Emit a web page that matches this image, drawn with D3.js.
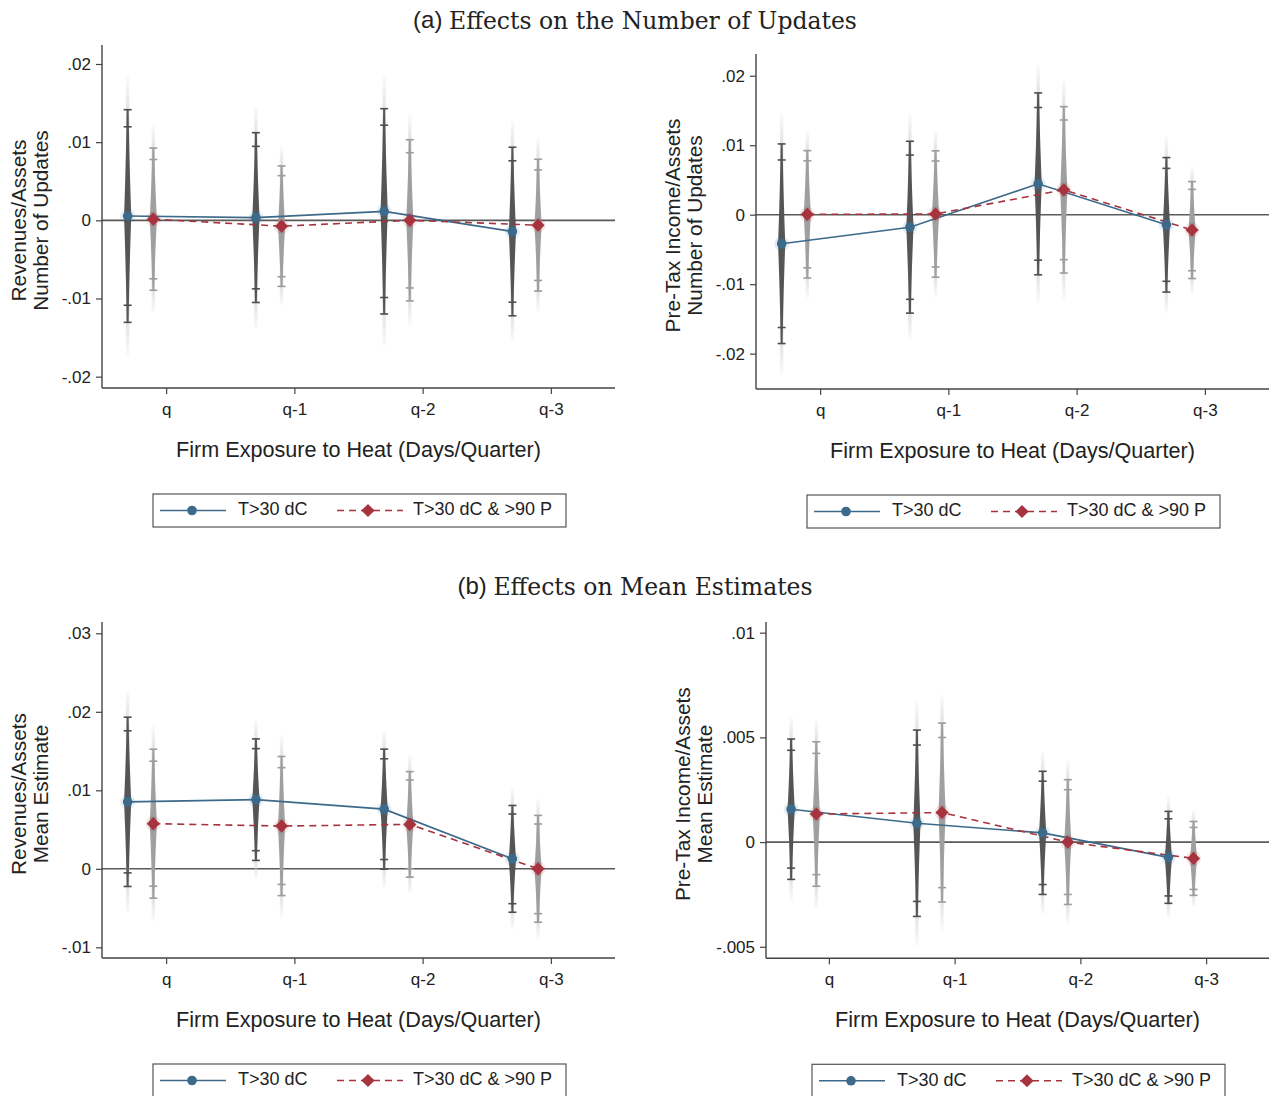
<!DOCTYPE html>
<html>
<head>
<meta charset="utf-8">
<script src="https://cdn.jsdelivr.net/npm/d3@7"></script>
<style>
  body { margin: 0; background: #fff; }
  svg { display: block; }
</style>
</head>
<body>
<svg id="chart" width="1269" height="1096"></svg>
<script>
// ---------------- DATA ----------------
const categories = ["q", "q-1", "q-2", "q-3"];
const seriesNames = ["T>30 dC", "T>30 dC & >90 P"];

// (a) Number of Updates — Revenues/Assets
const updRevEstT30 = [0.00055, 0.00035, 0.00115, -0.00143];
const updRevSeT30  = [0.00694, 0.00554, 0.00670, 0.00550];
const updRevEstP90 = [0.00015, -0.00075, 0.00000, -0.00062];
const updRevSeP90  = [0.00464, 0.00393, 0.00526, 0.00430];

// (a) Number of Updates — Pre-Tax Income/Assets
const updPtiEstT30 = [-0.00418, -0.00180, 0.00444, -0.00146];
const updPtiSeT30  = [0.00733, 0.00631, 0.00668, 0.00494];
const updPtiEstP90 = [0.00005, 0.00010, 0.00358, -0.00221];
const updPtiSeP90  = [0.00468, 0.00464, 0.00611, 0.00356];

// (b) Mean Estimates — Revenues/Assets
const meanRevEstT30 = [0.00853, 0.00881, 0.00760, 0.00127];
const meanRevSeT30  = [0.00550, 0.00395, 0.00390, 0.00347];
const meanRevEstP90 = [0.00575, 0.00545, 0.00566, 0.00000];
const meanRevSeP90  = [0.00484, 0.00452, 0.00343, 0.00347];

// (b) Mean Estimates — Pre-Tax Income/Assets
const meanPtiEstT30 = [0.00157, 0.00090, 0.00044, -0.00073];
const meanPtiSeT30  = [0.00171, 0.00227, 0.00150, 0.00112];
const meanPtiEstP90 = [0.00134, 0.00141, 0.00000, -0.00078];
const meanPtiSeP90  = [0.00176, 0.00218, 0.00152, 0.00090];

// tick values / labels
const ticksUpd = [-0.02, -0.01, 0, 0.01, 0.02];
const ticksUpdLabels = ["-.02", "-.01", "0", ".01", ".02"];
const ticksMeanRev = [-0.01, 0, 0.01, 0.02, 0.03];
const ticksMeanRevLabels = ["-.01", "0", ".01", ".02", ".03"];
const ticksMeanPti = [-0.005, 0, 0.005, 0.01];
const ticksMeanPtiLabels = ["-.005", "0", ".005", ".01"];

const xTitle = "Firm Exposure to Heat (Days/Quarter)";

// ---------------- STYLE / LAYOUT ----------------
const BLUE = "#3c6a8b", RED = "#a6333d";
const Z90 = 1.645, Z95 = 1.96, Z99 = 2.576;
const svg = d3.select("#chart");
const defs = svg.append("defs");
const fadeGrad = defs.append("linearGradient").attr("id", "fade")
  .attr("x1", 0).attr("y1", 0).attr("x2", 0).attr("y2", 1);
[[0, 0.1], [0.2, 1], [0.8, 1], [1, 0.1]].forEach(([o, a]) =>
  fadeGrad.append("stop").attr("offset", o).attr("stop-color", "#d4d4d4").attr("stop-opacity", a));

const panels = [
  { left: 102, right: 615, top: 45, bottom: 388, dom: [-0.02145, 0.02243],
    ticks: ticksUpd, labels: ticksUpdLabels, ytitle: ["Revenues/Assets", "Number of Updates"],
    series: [[updRevEstT30, updRevSeT30], [updRevEstP90, updRevSeP90]] },
  { left: 756, right: 1269, top: 54, bottom: 389, dom: [-0.02509, 0.02313],
    ticks: ticksUpd, labels: ticksUpdLabels, ytitle: ["Pre-Tax Income/Assets", "Number of Updates"],
    series: [[updPtiEstT30, updPtiSeT30], [updPtiEstP90, updPtiSeP90]] },
  { left: 102, right: 615, top: 622, bottom: 958, dom: [-0.01136, 0.03144],
    ticks: ticksMeanRev, labels: ticksMeanRevLabels, ytitle: ["Revenues/Assets", "Mean Estimate"],
    series: [[meanRevEstT30, meanRevSeT30], [meanRevEstP90, meanRevSeP90]] },
  { left: 766, right: 1269, top: 622, bottom: 958.3, dom: [-0.00555, 0.01051],
    ticks: ticksMeanPti, labels: ticksMeanPtiLabels, ytitle: ["Pre-Tax Income/Assets", "Mean Estimate"],
    series: [[meanPtiEstT30, meanPtiSeT30], [meanPtiEstP90, meanPtiSeP90]] }
];

const seriesStyle = [
  { color: BLUE, bar: "#4e4e4e", offset: -0.3, dash: null, marker: "circle" },
  { color: RED, bar: "#9c9c9c", offset: -0.1, dash: "7,5", marker: "diamond" }
];

// section titles
function sectionTitle(y, tag, text) {
  const t = svg.append("text").attr("x", 635).attr("y", y).attr("text-anchor", "middle")
    .attr("dominant-baseline", "middle").attr("fill", "#222");
  t.append("tspan").attr("font-family", "Liberation Sans, Arial, sans-serif").attr("font-size", 24).text(tag + " ");
  t.append("tspan").attr("font-family", "DejaVu Serif, serif").attr("font-size", 23.5).text(text);
}
sectionTitle(22, "(a)", "Effects on the Number of Updates");
sectionTitle(588, "(b)", "Effects on Mean Estimates");

const FONT = "Liberation Sans, Arial, Helvetica, sans-serif";

function drawMarker(sel, st, cx, cy) {
  if (st.marker === "circle") {
    sel.append("circle").attr("cx", cx).attr("cy", cy).attr("r", 4.8).attr("fill", st.color);
  } else {
    sel.append("path").attr("d", d3.symbol(d3.symbolDiamond2, 110)())
      .attr("transform", `translate(${cx},${cy})`).attr("fill", st.color);
  }
}

panels.forEach(p => {
  const g = svg.append("g");
  const x = d3.scaleLinear().domain([0.5, 4.5]).range([p.left, p.right]);
  const y = d3.scaleLinear().domain(p.dom).range([p.bottom, p.top]);

  // zero line
  g.append("line").attr("x1", p.left).attr("x2", p.right).attr("y1", y(0)).attr("y2", y(0))
    .attr("stroke", "#5a5a5a").attr("stroke-width", 1.6);

  // y axis
  const ya = g.append("g").attr("transform", `translate(${p.left},0)`)
    .call(d3.axisLeft(y).tickValues(p.ticks).tickFormat((d, i) => p.labels[i]).tickSize(6).tickPadding(5));
  ya.select(".domain").remove();
  ya.selectAll("line").attr("stroke", "#444").attr("stroke-width", 1.2);
  ya.selectAll("text").attr("font-family", FONT).attr("font-size", 17).attr("fill", "#222");
  g.append("line").attr("x1", p.left).attr("x2", p.left).attr("y1", p.top).attr("y2", p.bottom)
    .attr("stroke", "#444").attr("stroke-width", 1.4);

  // x axis
  const xa = g.append("g").attr("transform", `translate(0,${p.bottom})`)
    .call(d3.axisBottom(x).tickValues([1, 2, 3, 4]).tickFormat((d, i) => categories[i]).tickSize(6).tickPadding(9));
  xa.select(".domain").remove();
  xa.selectAll("line").attr("stroke", "#444").attr("stroke-width", 1.2);
  xa.selectAll("text").attr("font-family", FONT).attr("font-size", 17).attr("fill", "#222");
  g.append("line").attr("x1", p.left).attr("x2", p.right).attr("y1", p.bottom).attr("y2", p.bottom)
    .attr("stroke", "#444").attr("stroke-width", 1.4);

  // x title
  g.append("text").attr("x", (p.left + p.right) / 2).attr("y", p.bottom + 63)
    .attr("text-anchor", "middle").attr("dominant-baseline", "middle")
    .attr("font-family", FONT).attr("font-size", 21.6).attr("fill", "#222").text(xTitle);

  // y title (two lines)
  const cy = (p.top + p.bottom) / 2 + 4;
  p.ytitle.forEach((t, i) => {
    const cx = p.left - 82 + i * 22;
    g.append("text").attr("transform", `translate(${cx},${cy}) rotate(-90)`)
      .attr("text-anchor", "middle").attr("dominant-baseline", "middle")
      .attr("font-family", FONT).attr("font-size", 20.8).attr("fill", "#222").text(t);
  });

  // CI spindles
  p.series.forEach(([est, se], si) => {
    const st = seriesStyle[si];
    est.forEach((e, i) => {
      const cx = x(i + 1 + st.offset);
      const s = se[i];
      // faint 99% bar
      g.append("rect").attr("x", cx - 1.7).attr("width", 3.4)
        .attr("y", y(e + Z99 * s)).attr("height", y(e - Z99 * s) - y(e + Z99 * s))
        .attr("fill", "url(#fade)");
      // spindle (95%)
      const vals = d3.range(-1, 1.0001, 0.05);
      const hw = t => 1.0 + 2.6 * Math.pow(1 - Math.abs(t), 1.4);
      const area = d3.area()
        .y(t => y(e + t * Z95 * s))
        .x0(t => cx - hw(t))
        .x1(t => cx + hw(t));
      g.append("path").attr("d", area(vals)).attr("fill", st.bar).attr("opacity", 0.95);
      // caps at 90% and 95%
      [Z90, Z95].forEach(z => {
        [1, -1].forEach(sg => {
          const yy = y(e + sg * z * s);
          g.append("line").attr("x1", cx - 4).attr("x2", cx + 4).attr("y1", yy).attr("y2", yy)
            .attr("stroke", st.bar).attr("stroke-width", 1.6);
        });
      });
    });
  });

  // connecting lines and markers
  p.series.forEach(([est], si) => {
    const st = seriesStyle[si];
    const line = d3.line().x((d, i) => x(i + 1 + st.offset)).y(d => y(d));
    const path = g.append("path").attr("d", line(est)).attr("fill", "none")
      .attr("stroke", st.color).attr("stroke-width", 1.6);
    if (st.dash) path.attr("stroke-dasharray", st.dash);
  });
  p.series.forEach(([est], si) => {
    const st = seriesStyle[si];
    est.forEach((e, i) => {
      const cx = x(i + 1 + st.offset), cyy = y(e);
      g.append("circle").attr("cx", cx).attr("cy", cyy).attr("r", 7.5)
        .attr("fill", st.color).attr("opacity", 0.12);
      drawMarker(g, st, cx, cyy);
    });
  });

  // legend
  const lw = 413, lh = 33;
  const lx = (p.left + p.right) / 2 - lw / 2 + 1;
  const ly = p.bottom + 106;
  const lg = g.append("g").attr("transform", `translate(${lx},${ly})`);
  lg.append("rect").attr("width", lw).attr("height", lh).attr("fill", "#fff")
    .attr("stroke", "#555").attr("stroke-width", 1.2);
  const items = [{ x0: 7, x1: 73, mx: 39, tx: 85 }, { x0: 184, x1: 250, mx: 215, tx: 260 }];
  items.forEach((it, si) => {
    const st = seriesStyle[si];
    const ln = lg.append("line").attr("x1", it.x0).attr("x2", it.x1).attr("y1", lh / 2).attr("y2", lh / 2)
      .attr("stroke", st.color).attr("stroke-width", 1.6);
    if (st.dash) ln.attr("stroke-dasharray", st.dash);
    drawMarker(lg, st, it.mx, lh / 2);
    lg.append("text").attr("x", it.tx).attr("y", lh / 2).attr("dominant-baseline", "middle")
      .attr("font-family", FONT).attr("font-size", 18).attr("fill", "#222").text(seriesNames[si]);
  });
});
</script>
</body>
</html>
